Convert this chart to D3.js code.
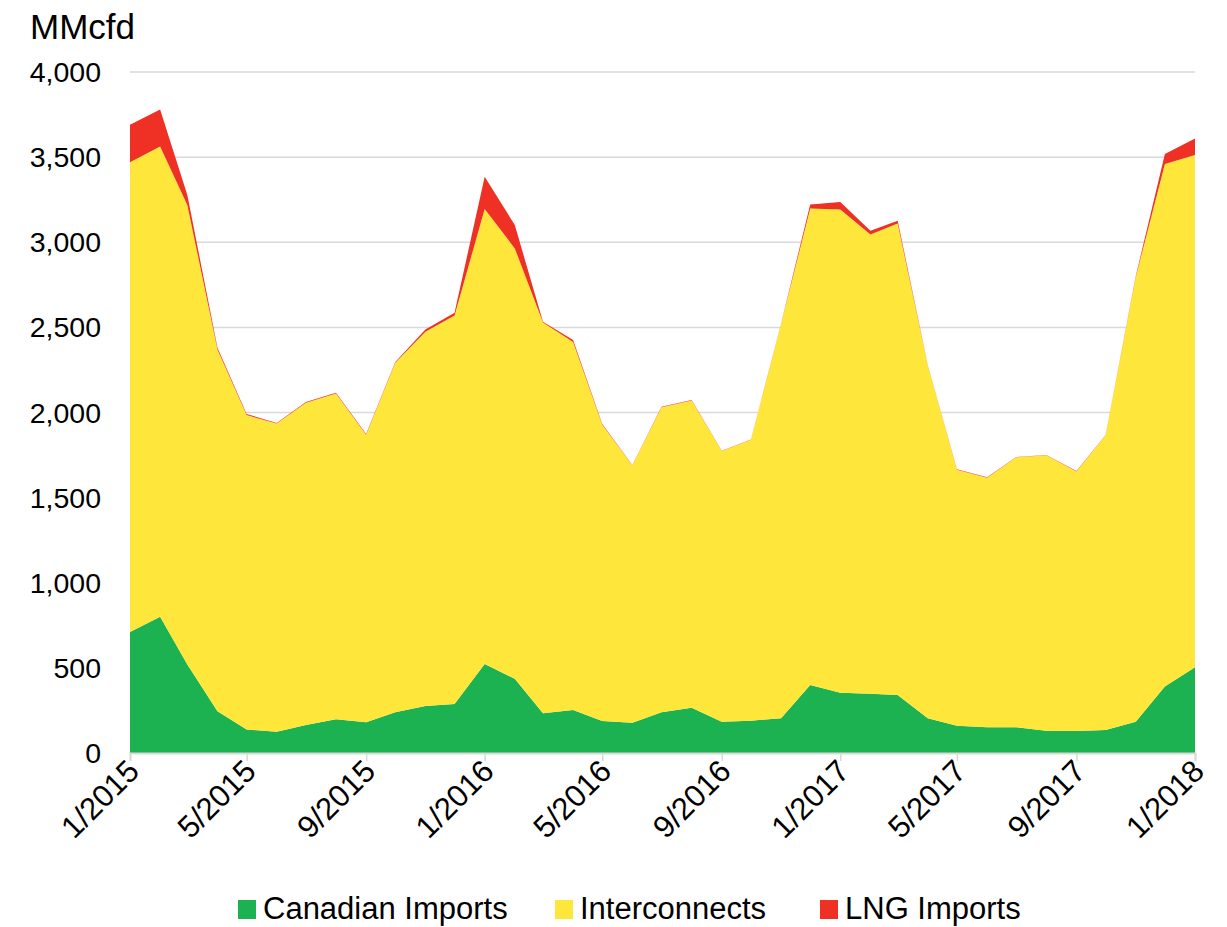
<!DOCTYPE html>
<html>
<head>
<meta charset="utf-8">
<script src="https://cdn.jsdelivr.net/npm/d3@7"></script>
<style>
  body { margin: 0; background: #fff; }
  svg text { font-family: "Liberation Sans", Arial, sans-serif; fill: #000; }
</style>
</head>
<body>
<script>
// monthly data, 1/2015 .. 1/2018 (MMcfd)
var months = d3.range(37).map(function(i){ return new Date(2015, i, 1); });
var canadian = [711,800,520,245,138,125,164,198,180,239,276,288,523,436,233,252,188,178,239,266,184,190,204,399,354,348,341,204,160,151,151,131,129,135,184,390,503];
var interconnects = [2759,2762,2699,2125,1847,1810,1894,1914,1690,2053,2199,2282,2672,2528,2295,2162,1740,1512,1792,1804,1590,1650,2316,2799,2839,2698,2769,2073,1504,1466,1586,1618,1525,1731,2611,3069,3009];
var lng = [220,218,58,10,6,3,4,4,4,5,13,16,190,137,5,12,4,2,3,3,2,2,2,24,43,22,17,2,2,2,2,2,2,2,5,59,98];
var seriesNames = ["Canadian Imports", "Interconnects", "LNG Imports"];
var seriesColors = ["#1cb151", "#fee73a", "#ee3124"];
var yTicks = [0,500,1000,1500,2000,2500,3000,3500,4000];
var xTickMonths = d3.range(0, 37, 4);

var W = 1227, H = 927;
var margin = {left: 130, right: 32, top: 72, bottom: 174};

var svg = d3.select("body").append("svg")
    .attr("width", W)
    .attr("height", H);

var x = d3.scaleTime()
    .domain([months[0], months[36]])
    .range([margin.left, W - margin.right]);
var y = d3.scaleLinear()
    .domain([0, 4000])
    .range([H - margin.bottom, margin.top]);

//gridlines
svg.append("g").selectAll("line")
    .data(yTicks.slice(1))
    .enter().append("line")
    .attr("x1", margin.left).attr("x2", W - margin.right)
    .attr("y1", function(d){ return y(d); })
    .attr("y2", function(d){ return y(d); })
    .style("stroke", "#d9d9d9")
    .style("stroke-width", 1.5);

//stacked areas
var table = months.map(function(m, i){
    return {date: m, c: canadian[i], n: interconnects[i], l: lng[i]};
});
var stack = d3.stack().keys(["c", "n", "l"]);
var layers = stack(table);

var area = d3.area()
    .x(function(d){ return x(d.data.date); })
    .y0(function(d){ return y(d[0]); })
    .y1(function(d){ return y(d[1]); });

svg.append("g").selectAll("path")
    .data(layers)
    .enter().append("path")
    .attr("d", area)
    .style("fill", function(d, i){ return seriesColors[i]; });

//x axis line and ticks
var xAxis = d3.axisBottom(x)
    .tickValues(xTickMonths.map(function(i){ return months[i]; }))
    .tickSize(8)
    .tickFormat("");
var gx = svg.append("g")
    .attr("transform", "translate(0," + y(0) + ")")
    .call(xAxis);
gx.select(".domain").style("stroke", "#d9d9d9").style("stroke-width", 2);
gx.selectAll(".tick line").style("stroke", "#d9d9d9").style("stroke-width", 1.5);

//rotated x labels
svg.append("g").selectAll("text")
    .data(xTickMonths)
    .enter().append("text")
    .attr("transform", function(i){
        return "translate(" + (x(months[i]) + 11) + "," + (y(0) + 20) + ") rotate(-45)";
    })
    .attr("text-anchor", "end")
    .style("font-size", "31px")
    .text(function(i){ return (months[i].getMonth() + 1) + "/" + months[i].getFullYear(); });

//y labels
svg.append("g").selectAll("text")
    .data(yTicks)
    .enter().append("text")
    .attr("x", 101)
    .attr("y", function(d){ return y(d) + 10; })
    .attr("text-anchor", "end")
    .style("font-size", "28.5px")
    .text(d3.format(","));

svg.append("text")
    .attr("x", 30)
    .attr("y", 39)
    .style("font-size", "35px")
    .text("MMcfd");

//legend
var legendX = [238, 555, 820];
var legend = svg.append("g").selectAll("g")
    .data(seriesNames)
    .enter().append("g")
    .attr("transform", function(d, i){ return "translate(" + legendX[i] + ",900)"; });
legend.append("rect")
    .attr("width", 18).attr("height", 19)
    .style("fill", function(d, i){ return seriesColors[i]; });
legend.append("text")
    .attr("x", 25)
    .attr("y", 19)
    .style("font-size", "31px")
    .text(function(d){ return d; });
</script>
</body>
</html>
